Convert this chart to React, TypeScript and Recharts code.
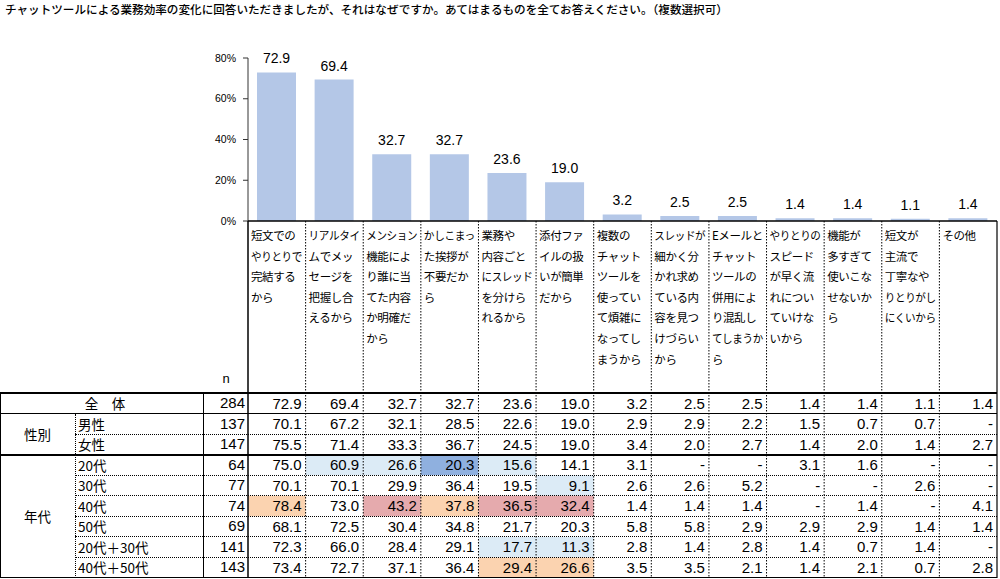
import { BarChart, Bar, XAxis, YAxis, LabelList } from 'recharts'

const title =
  'チャットツールによる業務効率の変化に回答いただきましたが、それはなぜですか。あてはまるものを全てお答えください。（複数選択可）'

const categories = [
  '短文でのやりとりで完結するから',
  'リアルタイムでメッセージを把握し合えるから',
  'メンション機能により誰に当てた内容か明確だから',
  'かしこまった挨拶が不要だから',
  '業務や内容ごとにスレッドを分けられるから',
  '添付ファイルの扱いが簡単だから',
  '複数のチャットツールを使っていて煩雑になってしまうから',
  'スレッドが細かく分かれ求めている内容を見つけづらいから',
  'Eメールとチャットツールの併用により混乱してしまうから',
  'やりとりのスピードが早く流れについていけないから',
  '機能が多すぎて使いこなせないから',
  '短文が主流で丁寧なやりとりがしにくいから',
  'その他',
]

const labelLines = [
  ['短文での', 'やりとりで', '完結する', 'から'],
  ['リアルタイ', 'ムでメッ', 'セージを', '把握し合', 'えるから'],
  ['メンション', '機能によ', 'り誰に当', 'てた内容', 'か明確だ', 'から'],
  ['かしこまっ', 'た挨拶が', '不要だか', 'ら'],
  ['業務や', '内容ごと', 'にスレッド', 'を分けら', 'れるから'],
  ['添付ファ', 'イルの扱', 'いが簡単', 'だから'],
  ['複数の', 'チャット', 'ツールを', '使ってい', 'て煩雑に', 'なってし', 'まうから'],
  ['スレッドが', '細かく分', 'かれ求め', 'ている内', '容を見つ', 'けづらい', 'から'],
  ['Eメールと', 'チャット', 'ツールの', '併用によ', 'り混乱し', 'てしまうか', 'ら'],
  ['やりとりの', 'スピード', 'が早く流', 'れについ', 'ていけな', 'いから'],
  ['機能が', '多すぎて', '使いこな', 'せないか', 'ら'],
  ['短文が', '主流で', '丁寧なや', 'りとりがし', 'にくいから'],
  ['その他'],
]

const yTicks = [0, 20, 40, 60, 80]

const rowLabels = ['全　体', '男性', '女性', '20代', '30代', '40代', '50代', '20代＋30代', '40代＋50代']
const rowN = [284, 137, 147, 64, 77, 74, 69, 141, 143]

const totalValues = [72.9, 69.4, 32.7, 32.7, 23.6, 19.0, 3.2, 2.5, 2.5, 1.4, 1.4, 1.1, 1.4]
const maleValues = [70.1, 67.2, 32.1, 28.5, 22.6, 19.0, 2.9, 2.9, 2.2, 1.5, 0.7, 0.7, null]
const femaleValues = [75.5, 71.4, 33.3, 36.7, 24.5, 19.0, 3.4, 2.0, 2.7, 1.4, 2.0, 1.4, 2.7]
const age20Values = [75.0, 60.9, 26.6, 20.3, 15.6, 14.1, 3.1, null, null, 3.1, 1.6, null, null]
const age30Values = [70.1, 70.1, 29.9, 36.4, 19.5, 9.1, 2.6, 2.6, 5.2, null, null, 2.6, null]
const age40Values = [78.4, 73.0, 43.2, 37.8, 36.5, 32.4, 1.4, 1.4, 1.4, null, 1.4, null, 4.1]
const age50Values = [68.1, 72.5, 30.4, 34.8, 21.7, 20.3, 5.8, 5.8, 2.9, 2.9, 2.9, 1.4, 1.4]
const age2030Values = [72.3, 66.0, 28.4, 29.1, 17.7, 11.3, 2.8, 1.4, 2.8, 1.4, 0.7, 1.4, null]
const age4050Values = [73.4, 72.7, 37.1, 36.4, 29.4, 26.6, 3.5, 3.5, 2.1, 1.4, 2.1, 0.7, 2.8]

const tableRows: (number | null)[][] = [
  totalValues, maleValues, femaleValues, age20Values, age30Values,
  age40Values, age50Values, age2030Values, age4050Values,
]

const data = categories.map((name, i) => ({ name, total: totalValues[i] }))

// layout
const W = 1000
const H = 579
const PLOT_LEFT = 248
const PLOT_RIGHT = 3
const COL_W = (W - PLOT_LEFT - PLOT_RIGHT) / categories.length
const TABLE_TOP = 393
const TABLE_BOTTOM = 578
const ROW_H = (TABLE_BOTTOM - TABLE_TOP) / tableRows.length

const JP = '"Noto Sans CJK JP", "Noto Sans", sans-serif'
const NUM = '"Liberation Sans", Arial, sans-serif'

// highlight: difference from 全体 (±5pt / ±10pt)
function cellColor(v: number | null, base: number, row: number) {
  if (row === 0 || v == null) return null
  const d = v - base
  if (d >= 10) return '#e5aaad'
  if (d >= 5) return '#fbd3b0'
  if (d <= -10) return '#8fb0df'
  if (d <= -5) return '#dcebf6'
  return null
}

function ColumnTick(props: any) {
  const { x, y, payload } = props
  const i = payload.index
  const left = x - COL_W / 2
  const right = left + COL_W
  const lines = labelLines[i]
  return (
    <g>
      {tableRows.map((row, r) => {
        const bg = cellColor(row[i], totalValues[i], r)
        return bg ? (
          <rect key={'bg' + r} x={left} y={TABLE_TOP + r * ROW_H} width={COL_W} height={ROW_H} fill={bg} />
        ) : null
      })}
      <line
        x1={left} x2={left} y1={y} y2={TABLE_BOTTOM}
        stroke="#000"
        strokeWidth={i === 0 ? 1.5 : 1}
        strokeDasharray={i === 0 ? undefined : '1.5 1.5'}
      />
      {i === categories.length - 1 && (
        <line x1={right} x2={right} y1={y} y2={TABLE_BOTTOM} stroke="#000" strokeWidth={1.2} />
      )}
      {lines.map((t, k) => (
        <text
          key={k}
          x={left + 3}
          y={y + 19 + k * 20.6}
          fontSize={11.5}
          letterSpacing={-0.4}
          fontFamily={JP}
          fill="#000"
          {...(t.length >= 5 ? { textLength: 51, lengthAdjust: 'spacingAndGlyphs' } : {})}
        >
          {t}
        </text>
      ))}
      {tableRows.map((row, r) => (
        <text
          key={'v' + r}
          x={right - 4}
          y={TABLE_TOP + r * ROW_H + 15.5}
          textAnchor="end"
          fontSize={15}
          fontFamily={NUM}
          fill="#000"
        >
          {row[i] == null ? '-' : row[i]!.toFixed(1)}
        </text>
      ))}
    </g>
  )
}

function hLine(y: number, x1: number, dotted: boolean, width = 1) {
  return (
    <div
      key={'h' + y + x1}
      style={{
        position: 'absolute', left: x1, top: y - width / 2, width: W - PLOT_RIGHT - x1,
        borderTop: `${width}px ${dotted ? 'dotted' : 'solid'} #000`,
      }}
    />
  )
}

function vLine(x: number, y1: number, y2: number, dotted: boolean) {
  return (
    <div
      key={'v' + x}
      style={{
        position: 'absolute', left: x, top: y1, height: y2 - y1,
        borderLeft: `1px ${dotted ? 'dotted' : 'solid'} #000`,
      }}
    />
  )
}

export default function App() {
  const rowTop = (r: number) => TABLE_TOP + r * ROW_H
  const cellText = { position: 'absolute' as const, fontFamily: JP, fontSize: 13.5, color: '#000', lineHeight: ROW_H + 'px' }

  return (
    <div style={{ position: 'absolute', left: 0, top: 0, width: W, height: H, background: '#fff', overflow: 'hidden' }}>
      <div style={{ position: 'absolute', left: 5, top: 1, fontFamily: JP, fontSize: 11.6, fontWeight: 500, color: '#000', whiteSpace: 'nowrap' }}>
        {title}
      </div>

      <BarChart width={W} height={H} data={data} margin={{ top: 58, right: PLOT_RIGHT, bottom: 0, left: 0 }}>
        <YAxis
          width={PLOT_LEFT}
          domain={[0, 80]}
          ticks={yTicks}
          interval={0}
          tickFormatter={(v) => `${v}%`}
          axisLine={{ stroke: '#333' }}
          tickLine={{ stroke: '#333' }}
          tickSize={5}
          tickMargin={7}
          tick={{ fontSize: 10.5, fill: '#000', fontFamily: NUM }}
        />
        <XAxis
          dataKey="name"
          height={H - 221}
          interval={0}
          tickSize={0}
          tickMargin={0}
          tickLine={false}
          axisLine={{ stroke: '#000', strokeWidth: 1.5 }}
          tick={<ColumnTick />}
        />
        <Bar dataKey="total" fill="#b4c7e7" barSize={39} isAnimationActive={false}>
          <LabelList
            dataKey="total"
            position="top"
            offset={9}
            fontSize={14}
            fontFamily={NUM}
            fill="#000"
            formatter={(v: any) => Number(v).toFixed(1)}
          />
        </Bar>
      </BarChart>

      <div style={{ position: 'absolute', left: 0, top: 0, width: W, height: H, pointerEvents: 'none' }}>
        <div style={{ ...cellText, left: 203, width: 46, top: 369, textAlign: 'center', fontFamily: NUM, fontSize: 13 }}>n</div>

        {hLine(TABLE_TOP, 0, false, 2)}
        {hLine(rowTop(1), 0, false, 1)}
        {hLine(rowTop(2), 75, true)}
        {hLine(rowTop(3), 0, false, 2)}
        {[4, 5, 6, 7, 8].map((r) => hLine(rowTop(r), 75, true))}
        {hLine(TABLE_BOTTOM, 0, false, 1.5)}
        {vLine(0, TABLE_TOP, TABLE_BOTTOM, false)}
        {vLine(75, rowTop(1), TABLE_BOTTOM, true)}
        {vLine(203, TABLE_TOP, TABLE_BOTTOM, false)}

        <div style={{ ...cellText, left: 0, width: 210, top: rowTop(0), textAlign: 'center' }}>{rowLabels[0]}</div>
        <div style={{ ...cellText, left: 0, width: 75, top: rowTop(1) + ROW_H / 2, textAlign: 'center' }}>性別</div>
        <div style={{ ...cellText, left: 0, width: 75, top: rowTop(3) + ROW_H * 2.5, textAlign: 'center' }}>年代</div>
        {rowLabels.slice(1).map((l, k) => (
          <div key={l} style={{ ...cellText, left: 78, top: rowTop(k + 1) }}>{l}</div>
        ))}
        {rowN.map((n, r) => (
          <div key={'n' + r} style={{ ...cellText, left: 203, width: 42, top: rowTop(r), textAlign: 'right', fontFamily: NUM, fontSize: 15 }}>{n}</div>
        ))}
      </div>
    </div>
  )
}
